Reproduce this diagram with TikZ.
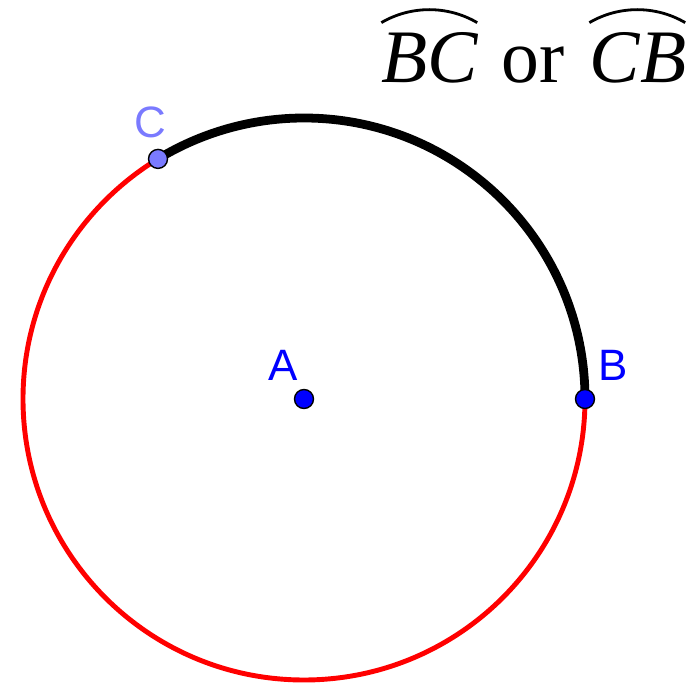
\documentclass[tikz,border=0pt]{standalone}
\usepackage{fontspec}
\setmainfont{Liberation Serif}
\newfontfamily\labelfont{Liberation Sans}
\usetikzlibrary{positioning,calc}
\definecolor{ptblue}{RGB}{0,0,255}
\definecolor{ptlight}{RGB}{122,122,255}
\definecolor{arcred}{RGB}{255,0,0}

\begin{document}
\begin{tikzpicture}[
x=0.02cm,y=0.02cm,
mydot/.style={
  draw=black,
  circle,
  fill=ptblue,
  inner sep=0pt,
  line width=0.8pt,
  minimum size=0.38cm},
ptlabel/.style={
  font=\labelfont\fontsize{25}{28}\selectfont,
  text=ptblue,
  inner sep=0pt},
arcname/.style={
  font=\itshape\fontsize{43}{48}\selectfont,
  inner sep=0pt,
  anchor=base}
]
\useasboundingbox (0,0) rectangle (697,684);
\coordinate (A) at (304,285);
\coordinate (B) at ($ (A)+(0:281) $);
\coordinate (C) at ($ (A)+(121.3:281) $);
% circle and arc
\draw[arcred, line width=2.8pt] (A) circle [radius=281];
\draw[black, line width=5pt] (B) arc [start angle=0, end angle=121.3, radius=281];
\node[mydot] (dA) at (A) {};
\node[mydot] (dB) at (B) {};
\node[mydot, fill=ptlight] (dC) at (C) {};
\node[ptlabel, above left=0.36cm and 0.12cm of dA.center] (lA) {A};
\node[ptlabel, above right=0.36cm and 0.26cm of dB.center] (lB) {B};
\node[ptlabel, text=ptlight, above=0.42cm of dC.center, xshift=-0.16cm] (lC) {C};
% title
\node[arcname] (bc) at (430,601) {BC};
\node[arcname, font=\fontsize{43}{48}\selectfont] (or) at (533,601) {or};
\node[arcname] (cb) at (638,601) {CB};
\foreach \Nodo in {bc,cb}
  \draw[line width=1.6pt] ($ (\Nodo.north west)+(0,0.2cm) $)
    arc [start angle=120.3, end angle=59.7, radius=1.9cm];
\end{tikzpicture}
\end{document}
